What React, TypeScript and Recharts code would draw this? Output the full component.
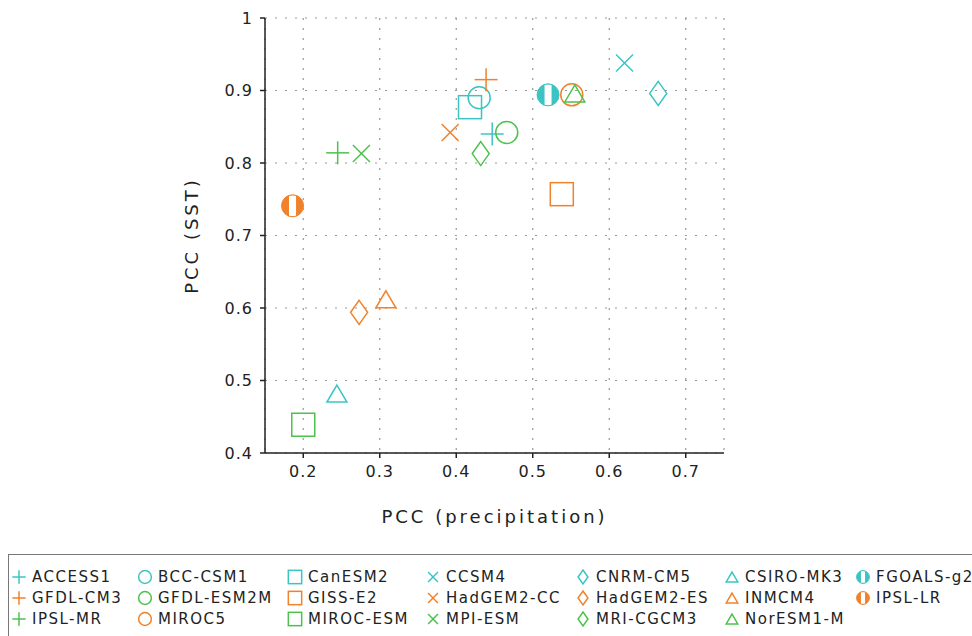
import React from "react";
import { ScatterChart, Scatter, XAxis, YAxis, CartesianGrid } from "recharts";

const CYAN = "#3cc4c4";
const ORANGE = "#f0822c";
const GREEN = "#4cc24c";

// legend order, row by row
const models = [
  "ACCESS1", "BCC-CSM1", "CanESM2", "CCSM4", "CNRM-CM5", "CSIRO-MK3", "FGOALS-g2",
  "GFDL-CM3", "GFDL-ESM2M", "GISS-E2", "HadGEM2-CC", "HadGEM2-ES", "INMCM4", "IPSL-LR",
  "IPSL-MR", "MIROC5", "MIROC-ESM", "MPI-ESM", "MRI-CGCM3", "NorESM1-M",
];
const pccPrecip = [
  0.447, 0.43, 0.418, 0.62, 0.664, 0.244, 0.52,
  0.439, 0.466, 0.538, 0.392, 0.273, 0.308, 0.186,
  0.245, 0.551, 0.2, 0.276, 0.432, 0.555,
];
const pccSst = [
  0.84, 0.89, 0.877, 0.938, 0.896, 0.482, 0.894,
  0.915, 0.842, 0.757, 0.842, 0.594, 0.612, 0.741,
  0.814, 0.894, 0.439, 0.813, 0.813, 0.896,
];
const colors = [
  CYAN, CYAN, CYAN, CYAN, CYAN, CYAN, CYAN,
  ORANGE, GREEN, ORANGE, ORANGE, ORANGE, ORANGE, ORANGE,
  GREEN, ORANGE, GREEN, GREEN, GREEN, GREEN,
];
const symbols = ["plus", "circle", "square", "cross", "diamond", "triangle", "half"];

const xTicks = [0.2, 0.3, 0.4, 0.5, 0.6, 0.7];
const yTicks = [0.4, 0.5, 0.6, 0.7, 0.8, 0.9, 1];

const FONT = "'DejaVu Sans', sans-serif";

const Marker = ({ cx, cy, sym, color, s = 1 }: any) => {
  const sw = 1.5;
  switch (sym) {
    case "plus": {
      const h = 11.5 * s;
      return (
        <g stroke={color} strokeWidth={sw} fill="none">
          <line x1={cx - h} y1={cy} x2={cx + h} y2={cy} />
          <line x1={cx} y1={cy - h} x2={cx} y2={cy + h} />
        </g>
      );
    }
    case "circle":
      return <circle cx={cx} cy={cy} r={11 * s} stroke={color} strokeWidth={sw} fill="none" />;
    case "square": {
      const h = 11.5 * s;
      return <rect x={cx - h} y={cy - h} width={2 * h} height={2 * h} stroke={color} strokeWidth={sw} fill="none" />;
    }
    case "cross": {
      const h = 8.5 * s;
      return (
        <g stroke={color} strokeWidth={sw} fill="none">
          <line x1={cx - h} y1={cy - h} x2={cx + h} y2={cy + h} />
          <line x1={cx - h} y1={cy + h} x2={cx + h} y2={cy - h} />
        </g>
      );
    }
    case "diamond": {
      const w = 8.5 * s;
      const h = 12 * s;
      return (
        <polygon
          points={`${cx},${cy - h} ${cx + w},${cy} ${cx},${cy + h} ${cx - w},${cy}`}
          stroke={color} strokeWidth={sw} fill="none"
        />
      );
    }
    case "triangle": {
      const w = 10 * s;
      const h = 8.5 * s;
      return (
        <polygon
          points={`${cx},${cy - h} ${cx + w},${cy + h} ${cx - w},${cy + h}`}
          stroke={color} strokeWidth={sw} fill="none"
        />
      );
    }
    default: {
      const r = 11 * s;
      const bw = 3.5 * s;
      const bh = Math.sqrt(r * r - bw * bw);
      return (
        <g>
          <circle cx={cx} cy={cy} r={r} fill={color} />
          <rect x={cx - bw} y={cy - bh} width={2 * bw} height={2 * bh} fill="#fff" />
          <circle cx={cx} cy={cy} r={r} stroke={color} strokeWidth={1} fill="none" />
        </g>
      );
    }
  }
};

const legendCols = [19, 145, 295, 433, 583, 732, 863];
const legendRows = [577, 598, 619];

export default function App() {
  const tickStyle = { fontFamily: FONT, fontSize: 16, fill: "#222", letterSpacing: 1 };
  return (
    <div style={{ position: "relative", width: 972, height: 636, overflow: "hidden", background: "#fff" }}>
      <style>{`body{margin:0}`}</style>
      <ScatterChart width={972} height={636} margin={{ top: 18, right: 248, bottom: 143, left: 205 }}>
        <CartesianGrid stroke="#999" strokeDasharray="2 8" strokeWidth={1.2} />
        <XAxis
          type="number"
          dataKey="x"
          domain={[0.15, 0.75]}
          ticks={xTicks}
          allowDataOverflow
          height={40}
          tickSize={5}
          tickMargin={8}
          tick={tickStyle}
          stroke="#222"
          strokeWidth={1.5}
          label={{
            content: ({ viewBox }: any) => (
              <text
                x={viewBox.x + viewBox.width / 2}
                y={viewBox.y + 70}
                textAnchor="middle"
                fontFamily={FONT}
                fontSize={18}
                letterSpacing={3}
                fill="#222"
              >
                PCC (precipitation)
              </text>
            ),
          }}
        />
        <XAxis xAxisId="top" orientation="top" type="number" domain={[0.15, 0.75]} height={0} tick={false} tickLine={false} stroke="#222" strokeWidth={1.5} />
        <YAxis
          type="number"
          dataKey="y"
          domain={[0.4, 1]}
          ticks={yTicks}
          allowDataOverflow
          width={60}
          tickSize={5}
          tickMargin={7}
          tick={tickStyle}
          stroke="#222"
          strokeWidth={1.5}
          label={{
            content: ({ viewBox }: any) => {
              const cx = viewBox.x - 7;
              const cy = viewBox.y + viewBox.height / 2;
              return (
                <text
                  x={cx}
                  y={cy}
                  transform={`rotate(-90 ${cx} ${cy})`}
                  textAnchor="middle"
                  fontFamily={FONT}
                  fontSize={18}
                  letterSpacing={3}
                  fill="#222"
                >
                  PCC (SST)
                </text>
              );
            },
          }}
        />
        <YAxis yAxisId="right" orientation="right" type="number" domain={[0.4, 1]} width={0} tick={false} tickLine={false} stroke="#222" strokeWidth={1.5} />
        {models.map((m, i) => (
          <Scatter
            key={m}
            name={m}
            data={[{ x: pccPrecip[i], y: pccSst[i] }]}
            isAnimationActive={false}
            shape={(p: any) => (
              <Marker cx={p.cx} cy={p.cy} sym={symbols[i % 7]} color={colors[i]} />
            )}
          />
        ))}
      </ScatterChart>
      <div
        style={{
          position: "absolute",
          left: 8,
          top: 554,
          width: 1000,
          height: 120,
          border: "1.5px solid #777",
          boxSizing: "border-box",
        }}
      />
      {models.map((m, i) => {
        const c = i % 7;
        const r = Math.floor(i / 7);
        return (
          <div
            key={m}
            style={{
              position: "absolute",
              left: legendCols[c] - 8,
              top: legendRows[r] - 10,
              height: 20,
              display: "flex",
              alignItems: "center",
              whiteSpace: "nowrap",
              fontFamily: FONT,
              fontSize: 15,
              letterSpacing: 1.5,
              color: "#222",
            }}
          >
            <svg width={21} height={20}>
              <Marker cx={8} cy={10} sym={symbols[c]} color={colors[i]} s={0.58} />
            </svg>
            <span>{m}</span>
          </div>
        );
      })}
    </div>
  );
}
